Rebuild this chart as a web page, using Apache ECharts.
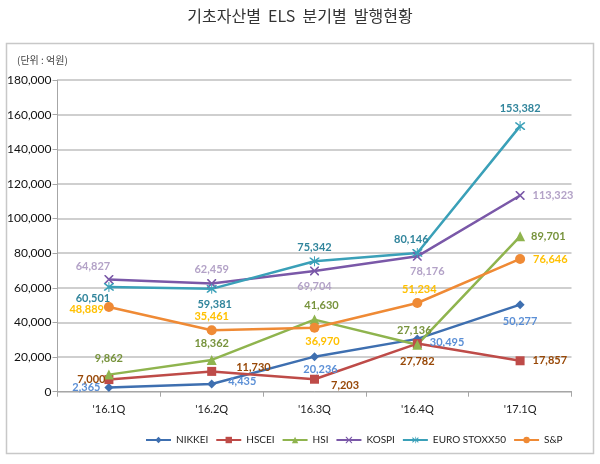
<!DOCTYPE html>
<html>
<head>
<meta charset="utf-8">
<script src="https://cdn.jsdelivr.net/npm/echarts@6/dist/echarts.min.js"></script>
<style>
html,body{margin:0;padding:0;background:#fff;}
#c{width:600px;height:464px;}
</style>
</head>
<body>
<div id="c"></div>
<script>
const categories = ["'16.1Q", "'16.2Q", "'16.3Q", "'16.4Q", "'17.1Q"];
const nikkei = [2365, 4435, 20236, 30495, 50277];
const hscei = [7000, 11730, 7203, 27782, 17857];
const hsi = [9862, 18362, 41630, 27136, 89701];
const kospi = [64827, 62459, 69704, 78176, 113323];
const euro = [60501, 59381, 75342, 80146, 153382];
const snp = [48889, 35461, 36970, 51234, 76646];
const yTicks = [0, 20000, 40000, 60000, 80000, 100000, 120000, 140000, 160000, 180000];

const FONT = 'Lato, "Noto Sans", sans-serif';
const xPath = 'path://M0,0 L2.5,0 L10,7.5 L17.5,0 L20,0 L20,2.5 L12.5,10 L20,17.5 L20,20 L17.5,20 L10,12.5 L2.5,20 L0,20 L0,17.5 L7.5,10 L0,2.5 Z';
const starPath = 'path://M0,0 L2.5,0 L10,7.5 L17.5,0 L20,0 L20,2.5 L12.5,10 L20,17.5 L20,20 L17.5,20 L10,12.5 L2.5,20 L0,20 L0,17.5 L7.5,10 L0,2.5 Z M9,-3 L11,-3 L11,23 L9,23 Z';

function fmt(v){ return v.toLocaleString('en-US'); }

function mkData(vals, specs){
  return vals.map((v,i)=>{
    const s = specs[i];
    return {value: v, label: {position: s[0], offset: s[1] || [0,0], distance: s[2] !== undefined ? s[2] : 5}};
  });
}

function series(name, vals, color, labelColor, symbol, size, specs){
  return {
    name: name, type: 'line', data: mkData(vals, specs),
    symbol: symbol, symbolSize: size,
    lineStyle: {color: color, width: 2.5},
    itemStyle: {color: color},
    label: {show: true, color: labelColor, fontFamily: FONT, fontWeight: 'bold', fontSize: 11,
            formatter: p => fmt(p.value)},
    emphasis: {disabled: true},
    animation: false
  };
}

const chart = echarts.init(document.getElementById('c'), null, {renderer: 'canvas'});
chart.setOption({
  backgroundColor: '#fff',
  animation: false,
  title: {
    text: '기초자산별  ELS  분기별  발행현황', left: 'center', top: 3,
    textStyle: {fontFamily: '"Noto Sans CJK KR", sans-serif', fontSize: 16, fontWeight: 'normal', color: '#333'}
  },
  graphic: [
    {type: 'rect', shape: {x: 6.5, y: 43.5, width: 587, height: 410},
     style: {fill: 'none', stroke: '#c8c8c8', lineWidth: 1.5}, z: -1},
    {type: 'text', left: 17, top: 55,
     style: {text: '(단위 : 억원)', font: '10px "Noto Sans CJK KR", sans-serif', fill: '#444'}}
  ],
  legend: {
    left: 140, top: 430, width: 450, itemWidth: 25, itemHeight: 8, itemGap: 7,
    textStyle: {fontFamily: FONT, fontSize: 10, color: '#222'},
    data: ['NIKKEI','HSCEI','HSI','KOSPI','EURO STOXX50','S&P']
  },
  grid: {left: 57.5, right: 28.5, top: 80, bottom: 72.3, containLabel: false},
  xAxis: {
    type: 'category', data: categories, boundaryGap: true,
    axisLine: {lineStyle: {color: '#a6a6a6', width: 1}},
    axisTick: {show: true, alignWithLabel: false, length: 5, lineStyle: {color: '#a6a6a6'}},
    axisLabel: {fontFamily: FONT, fontSize: 11, color: '#222', margin: 12}
  },
  yAxis: {
    type: 'value', min: 0, max: 180000, interval: 20000,
    axisLine: {show: true, lineStyle: {color: '#a6a6a6'}},
    axisTick: {show: true, length: 5, lineStyle: {color: '#a6a6a6'}},
    splitLine: {lineStyle: {color: '#bfbfbf', width: 1.5}},
    axisLabel: {fontFamily: FONT, fontSize: 12, color: '#111', margin: 6,
      formatter: v => yTicks.indexOf(v) >= 0 ? fmt(v) : ''}
  },
  series: [
    series('NIKKEI', nikkei, '#3e6fb0', '#5b8fd6', 'diamond', 9,
      [['left',[0,0],4],['right',[4,-3],8],['bottom',[6,0],3],['right',[0,4],8],['bottom',[0,3],4]]),
    series('HSCEI', hscei, '#be4b48', '#984807', 'rect', 9,
      [['left',[2,0],1],['right',[12,-4],8],['right',[4,6],8],['bottom',[0,4],4],['right',[0,0],8]]),
    series('HSI', hsi, '#8fb44e', '#77933c', 'triangle', 10,
      [['top',[0,-2],4],['top',[0,0],6],['top',[7,0],4],['top',[-3,0],4],['right',[0,0],6]]),
    series('KOSPI', kospi, '#7a58a8', '#b3a2c7', xPath, 9,
      [['top',[-16,0],3],['top',[0,0],4],['bottom',[0,2],3],['bottom',[10,2],3],['right',[0,0],8]]),
    series('EURO STOXX50', euro, '#3aa0b8', '#31859c', starPath, 10,
      [['bottom',[-16,0],1],['bottom',[3,2],3],['top',[0,0],3],['top',[-6,0],3],['top',[0,-3],4]]),
    series('S&P', snp, '#ef8a35', '#ffc000', 'circle', 10,
      [['left',[4,2],4],['top',[0,0],3],['bottom',[8,0],3],['top',[2,0],3],['right',[0,0],8]])
  ]
});
</script>
</body>
</html>
